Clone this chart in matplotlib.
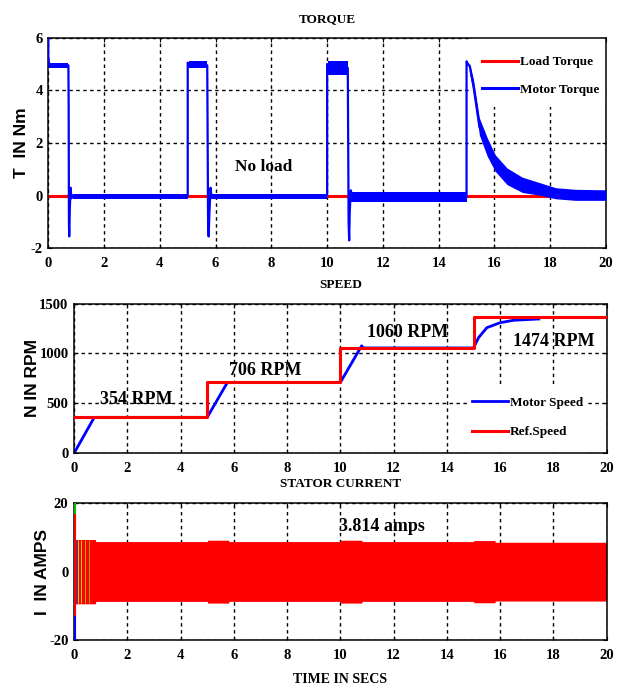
import matplotlib
matplotlib.use('Agg')
import matplotlib.pyplot as plt
from matplotlib.patches import Rectangle

# ── Data ─────────────────────────────────────────────────────────────────────
x_ticks = [0, 2, 4, 6, 8, 10, 12, 14, 16, 18, 20]

# torque panel: load torque (constant) and motor torque transitions
load_t = [0, 20]
load_v = [0, 0]

motor_t = [0.0, 0.0, 0.03, 0.72, 0.73, 0.74, 0.75, 0.77, 0.80, 0.83, 0.87,
           5.0, 5.0, 5.05, 5.70, 5.71, 5.73, 5.75, 5.78, 5.82, 5.85, 5.9,
           10.0, 10.0, 10.05, 10.74, 10.76, 10.77, 10.79, 10.81, 10.85, 10.9,
           15.0, 15.0, 15.05, 15.12, 15.25, 15.46, 15.74, 16.03, 16.45, 17.0,
           17.6, 18.2, 18.9, 20.0]
motor_v = [6.0, 5.3, 4.95, 4.95, 3.4, -1.1, -1.55, -0.5, 0.3, -0.1, 0.0,
           0.0, 5.05, 4.95, 4.95, 3.0, -1.0, -1.55, -0.6, 0.3, -0.05, 0.0,
           0.0, 5.0, 4.85, 4.85, 1.0, -1.0, -1.7, -0.6, 0.2, -0.05,
           -0.05, 5.1, 5.0, 4.9, 4.14, 2.62, 1.86, 1.23, 0.72, 0.40,
           0.26, 0.09, 0.03, 0.0]

# ripple bands of the motor torque: (start, end, lower, upper)
ripple_t0 = [0.03, 0.87, 5.05, 5.85, 10.02, 10.87]
ripple_t1 = [0.72, 5.0, 5.70, 10.0, 10.74, 15.0]
ripple_lo = [4.84, -0.12, 4.85, -0.12, 4.6, -0.25]
ripple_hi = [5.03, 0.08, 5.10, 0.08, 5.10, 0.15]

decay_t = [15.1, 15.25, 15.46, 15.74, 16.03, 16.45, 17.0, 17.6, 18.2, 18.9, 20.0]
decay_hi = [5.05, 4.40, 2.95, 2.20, 1.55, 1.05, 0.70, 0.50, 0.30, 0.24, 0.22]
decay_lo = [4.70, 3.90, 2.30, 1.50, 0.92, 0.42, 0.12, 0.02, -0.12, -0.18, -0.18]

# speed panel
ref_t = [0, 5, 5, 10, 10, 15, 15, 20]
ref_v = [360, 360, 710, 710, 1055, 1055, 1365, 1365]
spd_t = [0, 0.76, 5.0, 5.76, 10.0, 10.8, 10.85, 15.0, 15.19, 15.5, 16.0, 16.5, 17.45]
spd_v = [0, 360, 360, 710, 710, 1077, 1055, 1055, 1159, 1258, 1308, 1332, 1345]
spd_labels = ['354 RPM', '706 RPM', '1060 RPM', '1474 RPM']
spd_lab_t = [0.98, 5.8, 10.99, 16.5]
spd_lab_v = [537, 828, 1209, 1120]

# stator current envelope
cur_t = [0.02, 0.8, 0.82, 5.0, 5.02, 5.8, 5.82, 10.0, 10.02, 10.8, 10.82,
         15.0, 15.02, 15.8, 15.82, 20.0]
cur_hi = [9.4, 9.4, 8.8, 8.8, 9.2, 9.2, 8.8, 8.8, 9.2, 9.2, 8.8,
          8.8, 9.1, 9.1, 8.6, 8.6]
cur_lo = [-9.4, -9.4, -8.7, -8.7, -9.2, -9.2, -8.7, -8.7, -9.2, -9.2, -8.7,
          -8.7, -9.1, -9.1, -8.6, -8.6]
# start-up spikes of the three phases at t = 0
spike_lo = [9, -20, -13]
spike_hi = [20, -9, 17]
spike_col = ['#00c000', '#0000ff', '#ff0000']
# early coloured strands inside the band
strand_t = [0.08, 0.16, 0.27, 0.42, 0.58]
strand_c = ['#2040c0', '#e8d000', '#e8d000', '#c8b000', '#b0a000']

# ── Style ────────────────────────────────────────────────────────────────────
SERIF = 'Liberation Serif'
SANS = 'Liberation Sans'
BLUE = '#0000ff'
RED = '#ff0000'
plt.rcParams.update({
    'font.family': SERIF,
    'font.weight': 'bold',
    'axes.unicode_minus': False,
    'axes.linewidth': 1.1,
    'xtick.direction': 'in',
    'ytick.direction': 'in',
    'xtick.major.size': 3,
    'ytick.major.size': 3,
    'xtick.labelsize': 10.5,
    'ytick.labelsize': 10.5,
    'xtick.major.pad': 6.5,
    'ytick.major.pad': 4,
})
GRID = dict(color='black', linestyle=(0, (2.5, 2.5)), linewidth=1.0)
LEG = dict(fontsize=9.5, handlelength=2.75, handletextpad=0.15, frameon=False,
           borderpad=0.0, borderaxespad=0.0, loc='upper left')


def style(ax):
    ax.set_xlim(0, 20)
    ax.set_xticks(x_ticks)
    ax.grid(True, **GRID)
    ax.tick_params(top=True, right=True)
    for lab in ax.get_xticklabels() + ax.get_yticklabels():
        lab.set_fontweight('bold')


fig = plt.figure(figsize=(6.21, 6.87), dpi=100)

# ── Torque ───────────────────────────────────────────────────────────────────
ax1 = fig.add_axes([0.0778, 0.6386, 0.898, 0.3066])
ax1.plot(load_t, load_v, color=RED, lw=2.2, label='Load Torque', zorder=2)
ax1.plot(motor_t, motor_v, color=BLUE, lw=1.6, label='Motor Torque', zorder=3)
for t0, t1, lo, hi in zip(ripple_t0, ripple_t1, ripple_lo, ripple_hi):
    ax1.fill_between([t0, t1], [lo, lo], [hi, hi], color=BLUE, lw=0, zorder=3)
ax1.fill_between(decay_t, decay_lo, decay_hi, color=BLUE, lw=0, zorder=3)
ax1.set_ylim(-2, 6)
ax1.set_yticks([-2, 0, 2, 4, 6])
style(ax1)
ax1.set_title('TORQUE', fontsize=9.5, fontweight='bold', pad=11)
ax1.set_ylabel('T  IN Nm', family=SANS, fontsize=12.5, fontweight='bold')
ax1.yaxis.set_label_coords(-0.035, 0.5)
ax1.text(6.7, 1.1, 'No load', fontsize=12.5, fontweight='bold', va='center', ha='left')
ax1.add_patch(Rectangle((0.756, 0.671), 0.244, 0.329, transform=ax1.transAxes,
                        facecolor='white', edgecolor='none', zorder=1.7))
leg1 = ax1.legend(bbox_to_anchor=(0.777, 0.913), labelspacing=1.15, **LEG)
for ln in leg1.get_lines():
    ln.set_linewidth(2.2)

# ── Speed ────────────────────────────────────────────────────────────────────
ax2 = fig.add_axes([0.1192, 0.3402, 0.8578, 0.218])
ax2.plot(spd_t, spd_v, color=BLUE, lw=2.0, label='Motor Speed', zorder=2)
ax2.plot(ref_t, ref_v, color=RED, lw=2.2, label='Ref.Speed', zorder=3)
ax2.set_ylim(0, 1500)
ax2.set_yticks([0, 500, 1000, 1500])
style(ax2)
ax2.set_title('SPEED', fontsize=9.5, fontweight='bold', pad=11)
ax2.set_ylabel('N IN RPM', family=SANS, fontsize=12.5, fontweight='bold')
ax2.yaxis.set_label_coords(-0.063, 0.5)
for lab, t, v in zip(spd_labels, spd_lab_t, spd_lab_v):
    ax2.text(t, v, lab, fontsize=13, fontweight='bold', va='center', ha='left')
ax2.add_patch(Rectangle((0.740, 0.0), 0.223, 0.456, transform=ax2.transAxes,
                        facecolor='white', edgecolor='none', zorder=1.7))
ax2.legend(bbox_to_anchor=(0.7466, 0.379), labelspacing=1.31, **LEG)

# ── Stator current ───────────────────────────────────────────────────────────
ax3 = fig.add_axes([0.1192, 0.0684, 0.8578, 0.199])
ax3.fill_between(cur_t, cur_lo, cur_hi, color=RED, lw=0, zorder=2)
for lo, hi, c in zip(spike_lo, spike_hi, spike_col):
    ax3.vlines(0.02, lo, hi, color=c, lw=1.5, zorder=3)
for t, c in zip(strand_t, strand_c):
    ax3.vlines(t, -9.3, 9.3, color=c, lw=0.7, zorder=3)
ax3.set_ylim(-20, 20)
ax3.set_yticks([-20, 0, 20])
style(ax3)
ax3.set_title('STATOR CURRENT', fontsize=9.5, fontweight='bold', pad=12)
ax3.set_ylabel('I  IN AMPS', family=SANS, fontsize=12.5, fontweight='bold')
ax3.yaxis.set_label_coords(-0.046, 0.5)
ax3.set_xlabel('TIME IN SECS', fontsize=10, fontweight='bold', labelpad=8)
ax3.text(9.93, 13.2, '3.814 amps', fontsize=13, fontweight='bold', va='center', ha='left')

plt.savefig('out.png', dpi=100)
plt.close()
